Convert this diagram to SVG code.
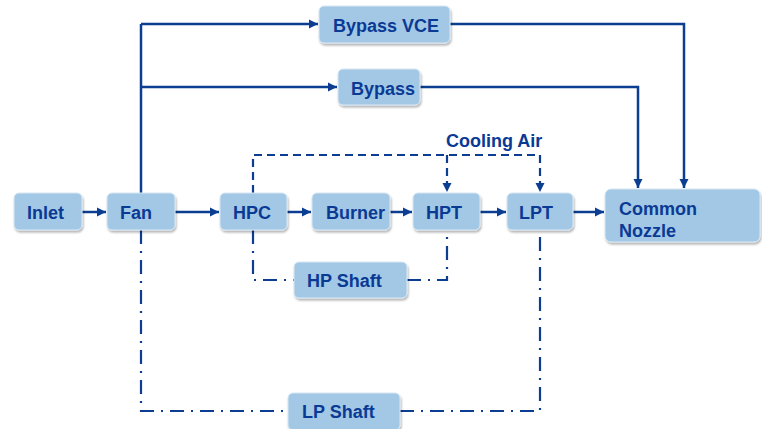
<svg xmlns="http://www.w3.org/2000/svg" width="762" height="429" viewBox="0 0 762 429">
<defs>
<filter id="sh" x="-10%" y="-20%" width="130%" height="150%">
<feDropShadow dx="1" dy="2" stdDeviation="1.3" flood-color="#000" flood-opacity="0.3"/>
</filter>
<marker id="ah" markerUnits="userSpaceOnUse" markerWidth="10" markerHeight="10" refX="9" refY="5" orient="auto">
<path d="M0,0.5 L9,5 L0,9.5 z" fill="#0b3d91"/>
</marker>
</defs>
<style>
.box{fill:#a2c8e5;stroke:#d8e8f4;stroke-width:1;filter:url(#sh)}
.t{font-family:"Liberation Sans",Arial,sans-serif;font-weight:bold;font-size:18px;fill:#0a3a94}
.c{fill:none;stroke:#0b3d91;stroke-width:2.5}
.s{stroke-width:2.2}
.a{marker-end:url(#ah)}
.dash{stroke-dasharray:8,5}
.dd{stroke-dasharray:14,7,2,7}
</style>
<rect width="762" height="429" fill="#fff"/>
<g id="connectors">
<path class="c a" d="M82,212 H106"/>
<path class="c a" d="M175,212 H219"/>
<path class="c a" d="M287,212 H311"/>
<path class="c a" d="M390,212 H412"/>
<path class="c a" d="M480,212 H506"/>
<path class="c a" d="M573,212 H604"/>
<path class="c" d="M141,193 V24"/>
<path class="c a" d="M141,24 H318"/>
<path class="c a" d="M141,87 H337"/>
<path class="c a" d="M450,24 H684 V188"/>
<path class="c a" d="M420,87 H638 V188"/>
<path class="c s dash a" d="M253,193 V155 H540 V192"/>
<path class="c s dash a" d="M447,155 V192"/>
<path class="c s dd" d="M253,230 V280 H294"/>
<path class="c s dd" d="M407,280 H447 V230"/>
<path class="c s dd" d="M141,230 V411 H288"/>
<path class="c s dd" d="M400,411 H540 V230"/>
</g>
<g id="inlet"><rect class="box" x="14" y="193" width="68" height="37" rx="5"/><text class="t" x="27" y="219">Inlet</text></g>
<g id="fan"><rect class="box" x="107" y="193" width="68" height="37" rx="5"/><text class="t" x="120" y="219">Fan</text></g>
<g id="hpc"><rect class="box" x="220" y="193" width="67" height="37" rx="5"/><text class="t" x="233" y="219">HPC</text></g>
<g id="burner"><rect class="box" x="312" y="193" width="78" height="37" rx="5"/><text class="t" x="326" y="219">Burner</text></g>
<g id="hpt"><rect class="box" x="413" y="193" width="67" height="37" rx="5"/><text class="t" x="426" y="219">HPT</text></g>
<g id="lpt"><rect class="box" x="507" y="193" width="66" height="37" rx="5"/><text class="t" x="519" y="219">LPT</text></g>
<g id="nozzle"><rect class="box" x="605" y="189" width="155" height="53" rx="6"/><text class="t" x="619" y="215">Common</text><text class="t" x="619" y="237">Nozzle</text></g>
<g id="bypass-vce"><rect class="box" x="319" y="6" width="131" height="37" rx="5"/><text class="t" x="333" y="32">Bypass VCE</text></g>
<g id="bypass"><rect class="box" x="338" y="69" width="82" height="36" rx="5"/><text class="t" x="351" y="95">Bypass</text></g>
<g id="hp-shaft"><rect class="box" x="294" y="262" width="113" height="36" rx="5"/><text class="t" x="307" y="287">HP Shaft</text></g>
<g id="lp-shaft"><rect class="box" x="288" y="393" width="112" height="37" rx="5"/><text class="t" x="302" y="418">LP Shaft</text></g>
<text class="t" x="446" y="147">Cooling Air</text>
</svg>
